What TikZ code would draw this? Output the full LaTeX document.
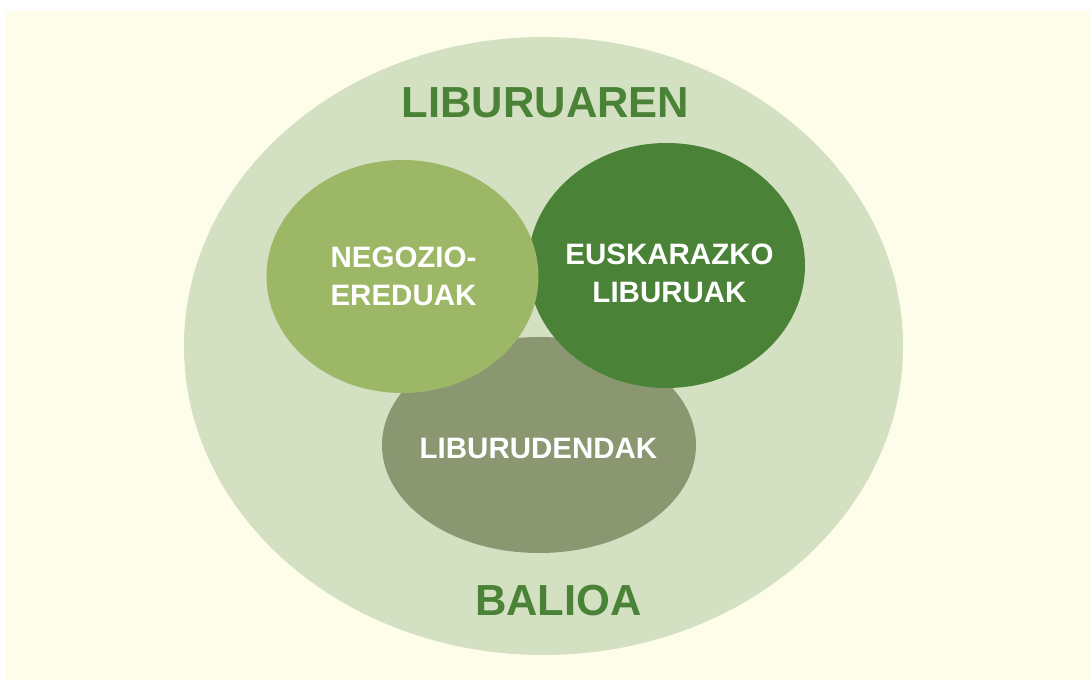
\documentclass[tikz,border=0pt]{standalone}
\usepackage{fontspec}
\setmainfont{Liberation Sans}
\usepackage{xcolor}
\usepackage{tikz}
\usetikzlibrary{shapes.geometric}
\definecolor{LibCream}{HTML}{FEFDE9}
\definecolor{LibPale}{HTML}{D4E0C2}
\definecolor{LibLeaf}{HTML}{9CB867}
\definecolor{LibForest}{HTML}{4A8337}
\definecolor{LibSage}{HTML}{8A9770}
\tikzset{
  blob/.style={
    ellipse,
    draw=none,
    inner sep=0pt
  },
  blobtext/.style={
    inner sep=0pt,
    align=center,
    text=white,
    font=\fontsize{29.5}{38}\selectfont\bfseries
  },
  title/.style={
    text=LibForest,
    inner sep=0pt,
    font=\fontsize{43.5}{50}\selectfont\bfseries
  }
}

\begin{document}
\begin{tikzpicture}[x=1pt,y=1pt]
  \useasboundingbox (0,0) rectangle (1090,680);
  \fill[white] (0,0) rectangle (1090,680);
  \fill[LibCream] (6,0) rectangle (1090,669);
  % outer value ellipse
  \node[blob,fill=LibPale,minimum width=719pt,minimum height=618pt] (outer) at (543.5,334) {};
  \node[title] (top) at (545.5,577) {LIBURUAREN};
  \node[title] (bottom) at (558.5,79) {BALIOA};
  % inner circles
  \node[blob,fill=LibSage,minimum width=314pt,minimum height=216pt] (shops) at (539,235) {};
  \node[blob,fill=LibForest,minimum width=277pt,minimum height=245pt] (basque) at (666.5,414.5) {};
  \node[blob,fill=LibLeaf,minimum width=272pt,minimum height=233pt] (business) at (402.5,403.5) {};
  \node[blobtext] (shopstext) at (538.5,231.5) {LIBURUDENDAK};
  \node[blobtext] (basquetext) at (669.5,407) {EUSKARAZKO\\LIBURUAK};
  \node[blobtext] (businesstext) at (403.5,403.5) {NEGOZIO-\\EREDUAK};
\end{tikzpicture}
\end{document}
